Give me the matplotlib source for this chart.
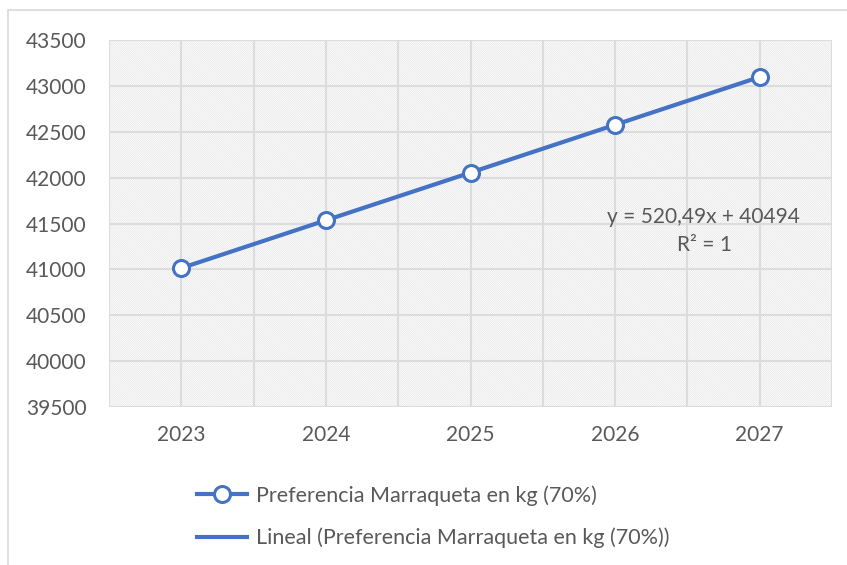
import matplotlib.pyplot as plt
from matplotlib.patches import Rectangle
from matplotlib.lines import Line2D

years = [2023, 2024, 2025, 2026, 2027]
values = [41014, 41535, 42055, 42576, 43097]
y_ticks = [39500, 40000, 40500, 41000, 41500, 42000, 42500, 43000, 43500]
series_label = "Preferencia Marraqueta en kg (70%)"
trend_label = "Lineal (Preferencia Marraqueta en kg (70%))"
equation = "y = 520,49x + 40494"
r2_text = "R² = 1"

BLUE = "#4472C4"
TEXT = "#595959"
GRID = "#DCDCDC"
HATCH = "#E2E2E2"

plt.rcParams["font.family"] = ["Lato", "DejaVu Sans"]
plt.rcParams["hatch.linewidth"] = 0.45

fig = plt.figure(figsize=(8.47, 5.65), dpi=100)
fig.patches.append(Rectangle((8 / 847, -0.1), 1.2, 1 - 10 / 565 + 0.1,
                             transform=fig.transFigure, fill=False,
                             edgecolor="#D9D9D9", linewidth=1.2))

ax = fig.add_axes([109 / 847, 1 - 407 / 565, (832 - 109) / 847, (407 - 40) / 565])

x = list(range(1, len(years) + 1))
# hatched plot area
ax.add_patch(Rectangle((0.5, y_ticks[0]), len(years), y_ticks[-1] - y_ticks[0],
                       facecolor="white", edgecolor=HATCH, linewidth=0,
                       hatch="\\" * 16, zorder=0))

ax.plot(x, values, color=BLUE, linewidth=3, zorder=3)
ax.plot(x, values, color=BLUE, linewidth=0, marker="o", markersize=11.5,
        markerfacecolor="white", markeredgecolor=BLUE, markeredgewidth=2.2, zorder=4)

ax.set_xlim(0.5, len(years) + 0.5)
ax.set_ylim(y_ticks[0], y_ticks[-1])
ax.set_yticks(y_ticks)
ax.set_xticks(x)
ax.set_xticklabels([str(y) for y in years])
ax.set_xticks([i + 0.5 for i in range(len(years) + 1)], minor=True)
ax.grid(True, which="both", color=GRID, linewidth=1.5, zorder=1)
ax.set_axisbelow(True)
ax.tick_params(which="both", length=0, labelsize=15, colors=TEXT)
ax.tick_params(axis="x", pad=13)
ax.tick_params(axis="y", pad=16)
for s in ax.spines.values():
    s.set_visible(False)

ax.text(4.61, 41571, equation, ha="center", va="center", fontsize=15, color=TEXT)
ax.text(4.62, 41266, r2_text, ha="center", va="center", fontsize=15, color=TEXT)

handles = [
    Line2D([], [], color=BLUE, linewidth=3, marker="o", markersize=11.5,
           markerfacecolor="white", markeredgecolor=BLUE, markeredgewidth=2.2),
    Line2D([], [], color=BLUE, linewidth=3),
]
fig.legend(handles, [series_label, trend_label], loc="upper left",
           bbox_to_anchor=(178 / 847, 1 - 466 / 565), frameon=False,
           fontsize=15.5, labelcolor=TEXT, handlelength=2.3, handletextpad=0.4,
           labelspacing=1.0)

fig.savefig("out.png", dpi=100)
